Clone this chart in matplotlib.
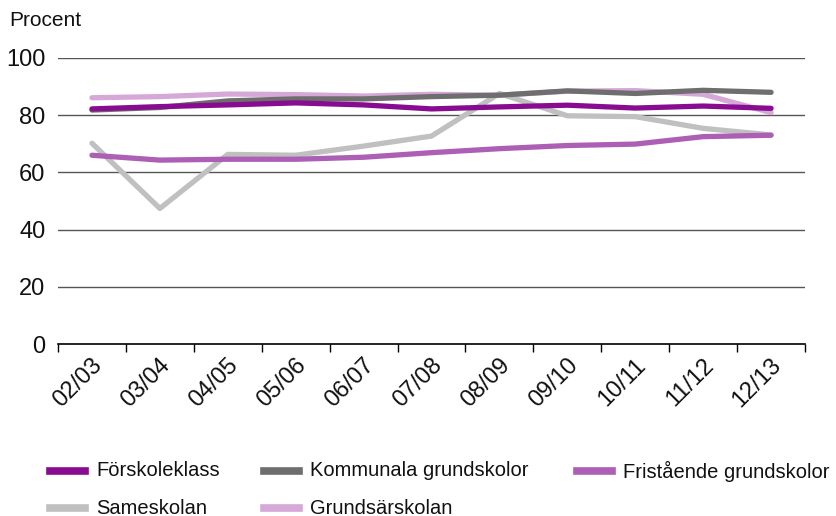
import matplotlib
matplotlib.use("Agg")
import matplotlib.pyplot as plt
from matplotlib.lines import Line2D
import matplotlib.transforms as mtransforms

plt.rcParams["font.family"] = ["Liberation Sans", "DejaVu Sans"]

years = ["02/03", "03/04", "04/05", "05/06", "06/07", "07/08", "08/09", "09/10", "10/11", "11/12", "12/13"]
forskoleklass = [82.2, 83.0, 83.6, 84.3, 83.6, 82.2, 82.9, 83.5, 82.5, 83.2, 82.4]
kommunala = [81.8, 82.7, 85.0, 85.7, 85.7, 86.5, 87.0, 88.5, 87.6, 88.7, 88.0]
fristaende = [66.0, 64.3, 64.6, 64.6, 65.3, 66.9, 68.3, 69.4, 69.9, 72.5, 73.0]
sameskolan = [70.2, 47.4, 66.3, 66.0, 69.2, 72.7, 87.6, 79.8, 79.5, 75.4, 73.1]
grundsar = [86.1, 86.5, 87.4, 87.2, 86.7, 87.3, 87.0, 88.4, 88.6, 87.3, 80.9]

series = [
    ("Förskoleklass", forskoleklass, "#880c8f"),
    ("Kommunala grundskolor", kommunala, "#6e6e6e"),
    ("Fristående grundskolor", fristaende, "#ad5fb5"),
    ("Sameskolan", sameskolan, "#c0c0c0"),
    ("Grundsärskolan", grundsar, "#d6a8d8"),
]

fig = plt.figure(figsize=(8.37, 5.16), dpi=100)
ax = fig.add_axes([0.0693, 0.3333, 0.8925, 0.5543])

x = list(range(len(years)))
n = len(series)
for i, (name, vals, col) in enumerate(series):
    ax.plot(x, vals, color=col, lw=3.8, solid_capstyle="round", solid_joinstyle="round",
            zorder=10 + (n - i))

ax.set_xlim(-0.5, len(years) - 0.5)
ax.set_ylim(0, 100)
ax.set_yticks([0, 20, 40, 60, 80, 100])
for yv in [20, 40, 60, 80, 100]:
    ax.axhline(yv, color="#555555", lw=1.0, zorder=1)

for s in ["top", "right", "left"]:
    ax.spines[s].set_visible(False)
ax.spines["bottom"].set_color("black")
ax.spines["bottom"].set_linewidth(1.2)
ax.spines["bottom"].set_zorder(30)

ax.tick_params(axis="y", length=0, pad=9, labelsize=17, labelcolor="#111111")
ax.set_xticks([i - 0.5 for i in range(len(years) + 1)])
ax.set_xticklabels([])
ax.tick_params(axis="x", length=6, width=1.0, direction="out", color="black")

offset = mtransforms.ScaledTranslation(7 / 100, -18 / 100, fig.dpi_scale_trans)
trans = mtransforms.blended_transform_factory(ax.transData, ax.transAxes) + offset
for i, lab in enumerate(years):
    ax.text(i, 0, lab, transform=trans,
            rotation=45, rotation_mode="anchor", ha="right", va="center",
            fontsize=17, color="#111111")

fig.text(9 / 837, 1 - 20 / 516, "Procent", fontsize=15, ha="left", va="center", color="#111111")

# legend
cols_x = [50, 264, 577]
rows_y = [471, 508]
order = [(0, 0), (0, 1), (0, 2), (1, 0), (1, 1)]
for (r, c), (name, vals, col) in zip(order, series):
    xp = cols_x[c] / 837
    yp = 1 - rows_y[r] / 516
    fig.add_artist(Line2D([xp, xp + 35 / 837], [yp, yp], color=col, lw=5.5,
                          transform=fig.transFigure))
    fig.text(xp + 46 / 837, yp, name, fontsize=14.5, ha="left", va="center", color="#111111")

fig.savefig("out.png", dpi=100)
